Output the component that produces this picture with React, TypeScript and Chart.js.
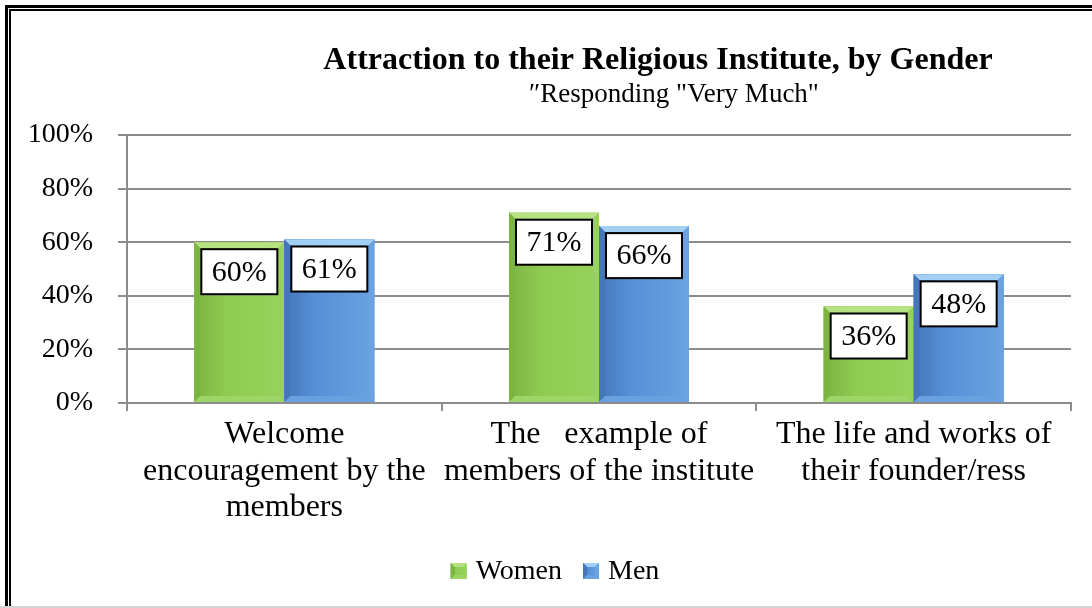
import React, { useEffect, useRef } from "react";
import { Chart, registerables } from "chart.js";

Chart.register(...registerables);

const categories: string[][] = [
  ["Welcome", "encouragement by the", "members"],
  ["The   example of", "members of the institute"],
  ["The life and works of", "their founder/ress"],
];
const women: number[] = [60, 71, 36];
const men: number[] = [61, 66, 48];
const seriesNames: string[] = ["Women", "Men"];
const yTicks: number[] = [0, 20, 40, 60, 80, 100];
const titleText = "Attraction to their Religious Institute, by Gender";
const subtitleText = "\u2033Responding \"Very Much\"";

const FONT = "'Liberation Serif', 'Times New Roman', serif";

const shade = [
  { base: "#8fca52", left: "#7cb442", right: "#97d25c", top: "#b6e282", bottom: "#9dd566" },
  { base: "#5790d7", left: "#4576ba", right: "#6aa2e2", top: "#a2cff4", bottom: "#69a0e0" },
];

function drawBevelBox(ctx: any, l: number, t: number, r: number, b: number, bv: number, c: any) {
  const g = ctx.createLinearGradient(l, 0, r, 0);
  g.addColorStop(0, c.left);
  g.addColorStop(0.35, c.base);
  g.addColorStop(1, c.right);
  ctx.fillStyle = g;
  ctx.fillRect(l, t, r - l, b - t);
  ctx.fillStyle = c.top;
  ctx.beginPath();
  ctx.moveTo(l, t); ctx.lineTo(r, t); ctx.lineTo(r - bv, t + bv); ctx.lineTo(l + bv, t + bv); ctx.closePath();
  ctx.fill();
  ctx.fillStyle = c.left;
  ctx.beginPath();
  ctx.moveTo(l, t); ctx.lineTo(l + bv, t + bv); ctx.lineTo(l + bv, b - bv); ctx.lineTo(l, b); ctx.closePath();
  ctx.fill();
  ctx.fillStyle = c.right;
  ctx.beginPath();
  ctx.moveTo(r, t); ctx.lineTo(r - bv, t + bv); ctx.lineTo(r - bv, b - bv); ctx.lineTo(r, b); ctx.closePath();
  ctx.fill();
  ctx.fillStyle = c.bottom;
  ctx.beginPath();
  ctx.moveTo(l, b); ctx.lineTo(l + bv, b - bv); ctx.lineTo(r - bv, b - bv); ctx.lineTo(r, b); ctx.closePath();
  ctx.fill();
}

const bevelPlugin = {
  id: "bevel",
  afterDatasetsDraw(chart: any) {
    const ctx = chart.ctx;
    chart.data.datasets.forEach((_ds: any, di: number) => {
      const meta = chart.getDatasetMeta(di);
      meta.data.forEach((el: any) => {
        ctx.save();
        drawBevelBox(ctx, el.x - el.width / 2, el.y, el.x + el.width / 2, el.base, 6, shade[di]);
        ctx.restore();
      });
    });
  },
};

const labelPlugin = {
  id: "boxLabels",
  afterDatasetsDraw(chart: any) {
    const ctx = chart.ctx;
    chart.data.datasets.forEach((ds: any, di: number) => {
      const meta = chart.getDatasetMeta(di);
      meta.data.forEach((el: any, i: number) => {
        const w = 76, h = 45;
        const x = el.x - w / 2;
        const y = el.y + 7;
        ctx.save();
        ctx.fillStyle = "#ffffff";
        ctx.fillRect(x, y, w, h);
        ctx.strokeStyle = "#000000";
        ctx.lineWidth = 2;
        ctx.strokeRect(x, y, w, h);
        ctx.fillStyle = "#000000";
        ctx.font = `30px ${FONT}`;
        ctx.textAlign = "center";
        ctx.textBaseline = "middle";
        ctx.fillText(ds.data[i] + "%", el.x, y + h / 2 + 1);
        ctx.restore();
      });
    });
  },
};

const legendPlugin = {
  id: "customLegend",
  afterDraw(chart: any) {
    const ctx = chart.ctx;
    ctx.save();
    ctx.font = `28px ${FONT}`;
    ctx.textBaseline = "middle";
    ctx.textAlign = "left";
    const boxSize = 16;
    const gapText = 9;
    const gapItem = 21;
    const widths = seriesNames.map((n) => boxSize + gapText + ctx.measureText(n).width);
    const total = widths.reduce((a, b) => a + b, 0) + gapItem * (seriesNames.length - 1);
    let x = 555 - total / 2;
    const cy = 571;
    seriesNames.forEach((n, i) => {
      drawBevelBox(ctx, x, cy - boxSize / 2, x + boxSize, cy + boxSize / 2, 4, shade[i]);
      ctx.fillStyle = "#000000";
      ctx.fillText(n, x + boxSize + gapText, cy + 1);
      x += widths[i] + gapItem;
    });
    ctx.restore();
  },
};

const titlePlugin = {
  id: "customTitle",
  afterDraw(chart: any) {
    const ctx = chart.ctx;
    ctx.save();
    ctx.fillStyle = "#000000";
    ctx.textAlign = "center";
    ctx.textBaseline = "alphabetic";
    ctx.font = `bold 32px ${FONT}`;
    ctx.fillText(titleText, 658, 69);
    ctx.font = `27px ${FONT}`;
    ctx.fillText(subtitleText, 674, 102);
    ctx.restore();
  },
};

export default function App() {
  const ref = useRef<HTMLCanvasElement>(null);
  useEffect(() => {
    if (!ref.current) return;
    Chart.defaults.font.family = FONT;
    const chart = new Chart(ref.current, {
      type: "bar",
      data: {
        labels: categories,
        datasets: [
          {
            label: seriesNames[0],
            data: women,
            backgroundColor: shade[0].base,
            borderWidth: 0,
            categoryPercentage: 0.572,
            barPercentage: 1,
          },
          {
            label: seriesNames[1],
            data: men,
            backgroundColor: shade[1].base,
            borderWidth: 0,
            categoryPercentage: 0.572,
            barPercentage: 1,
          },
        ],
      },
      options: {
        animation: false,
        responsive: false,
        maintainAspectRatio: false,
        devicePixelRatio: 1,
        layout: { padding: { left: 0, right: 21, top: 135, bottom: 61 } },
        plugins: {
          legend: { display: false },
          title: { display: false },
          tooltip: { enabled: false },
        },
        scales: {
          x: {
            grid: {
              display: true,
              drawOnChartArea: false,
              drawTicks: true,
              tickLength: 8,
              color: "#8c8c8c",
              lineWidth: 2,
              offset: true,
            },
            border: { display: true, color: "#8c8c8c", width: 2 },
            ticks: {
              color: "#000000",
              font: { size: 32, family: FONT, lineHeight: 1.13 },
              padding: 6,
              maxRotation: 0,
              autoSkip: false,
            },
            afterFit(scale: any) {
              scale.height = 144;
            },
          },
          y: {
            min: 0,
            max: 100,
            afterBuildTicks(scale: any) {
              scale.ticks = yTicks.map((v) => ({ value: v }));
            },
            grid: {
              color: "#8c8c8c",
              lineWidth: 2,
              tickLength: 9,
              drawTicks: true,
            },
            border: { display: true, color: "#8c8c8c", width: 2 },
            ticks: {
              color: "#000000",
              font: { size: 28, family: FONT },
              padding: 25,
              callback: (v: any) => v + "%",
            },
            afterFit(scale: any) {
              scale.width = 127;
            },
          },
        },
      },
      plugins: [bevelPlugin, labelPlugin, legendPlugin, titlePlugin],
    });
    return () => chart.destroy();
  }, []);

  return (
    <div
      style={{
        position: "fixed",
        left: 0,
        top: 0,
        width: 1092,
        height: 608,
        overflow: "hidden",
        background: "#ffffff",
      }}
    >
      <canvas
        ref={ref}
        width={1092}
        height={608}
        style={{ position: "absolute", left: 0, top: 0, width: 1092, height: 608 }}
      />
      <div
        style={{
          position: "absolute",
          left: 5,
          top: 5,
          width: 1300,
          height: 800,
          border: "3px solid #000",
          pointerEvents: "none",
        }}
      />
      <div
        style={{
          position: "absolute",
          left: 9,
          top: 9,
          width: 1300,
          height: 800,
          border: "2px solid #000",
          pointerEvents: "none",
        }}
      />
      <div
        style={{
          position: "absolute",
          left: 0,
          top: 606,
          width: 1092,
          height: 2,
          background: "#d4d4d4",
        }}
      />
    </div>
  );
}
